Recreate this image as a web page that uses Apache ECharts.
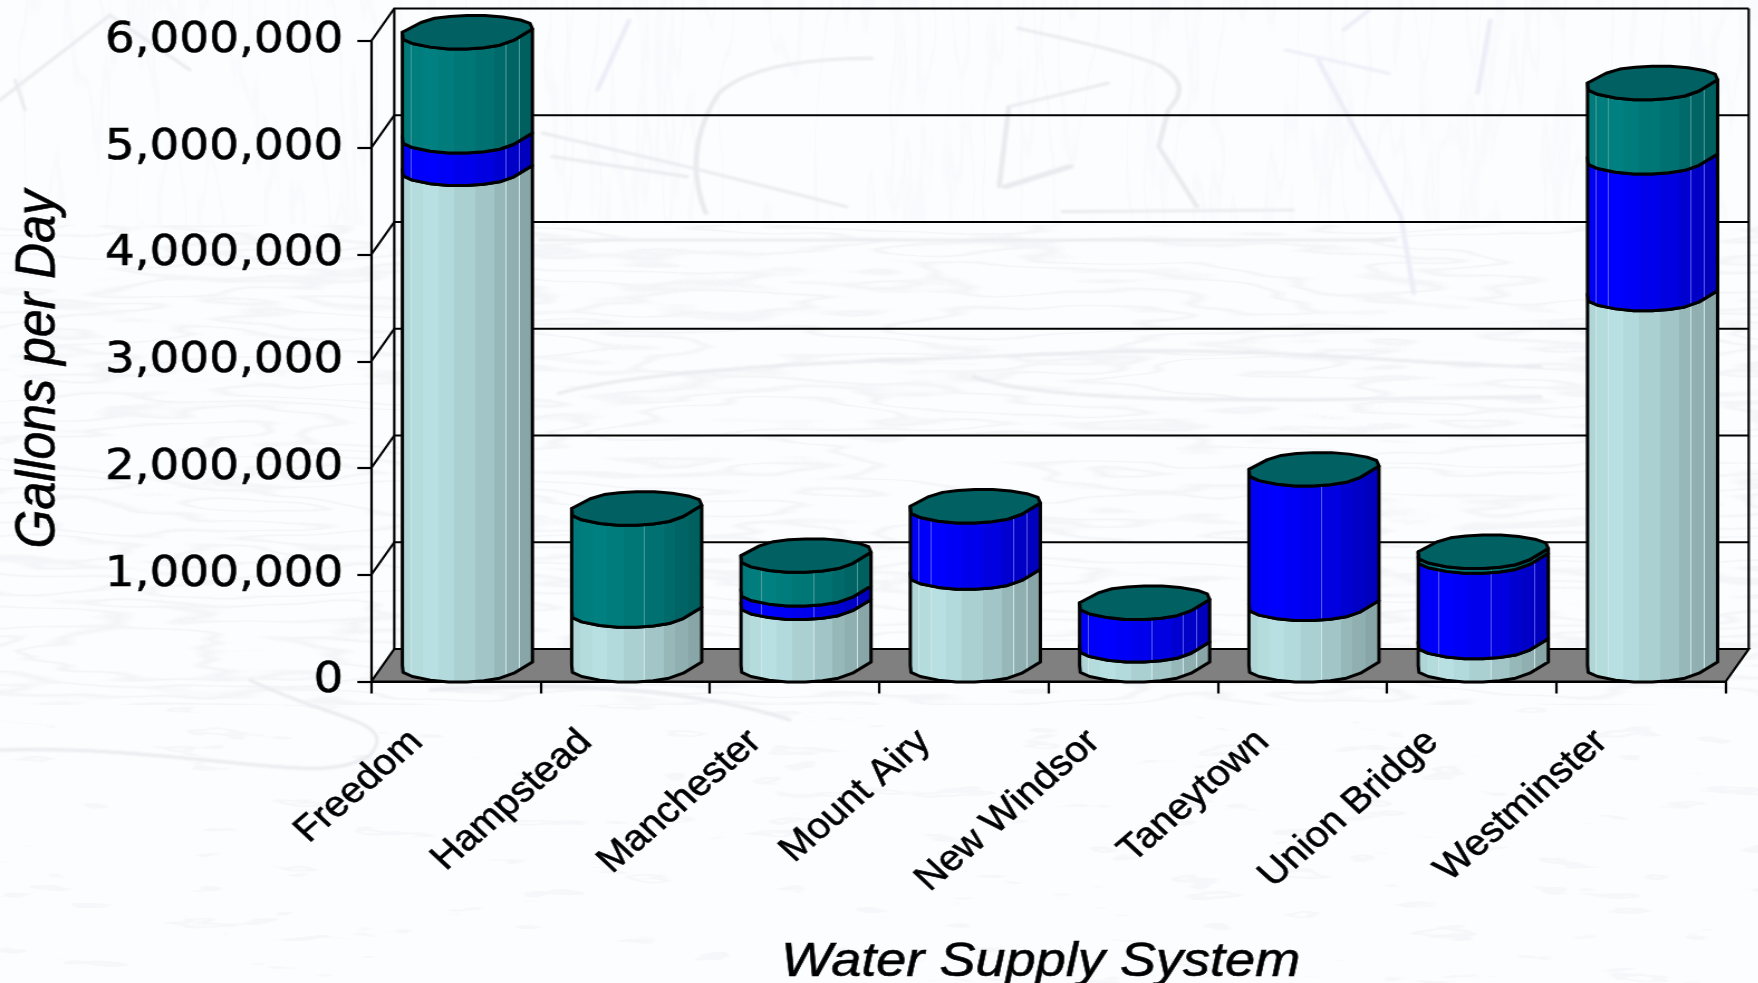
<!DOCTYPE html>
<html><head><meta charset="utf-8">
<style>
html,body{margin:0;padding:0;width:1758px;height:983px;overflow:hidden;background:#fcfdfe}
#bg{position:absolute;left:0;top:0}
#chart{position:absolute;left:0;top:0;height:983px;transform-origin:0 0}
</style>
<script src="https://cdn.jsdelivr.net/npm/echarts@6/dist/echarts.min.js"></script>
</head><body>
<svg id="bg" width="1758" height="983" xmlns="http://www.w3.org/2000/svg">
<defs>
<filter id="wood" x="0" y="0" width="100%" height="100%">
<feTurbulence type="fractalNoise" baseFrequency="0.0035 0.03" numOctaves="3" seed="7"/>
<feColorMatrix type="matrix" values="0 0 0 0 0.84  0 0 0 0 0.85  0 0 0 0 0.89  1 0 0 0 0"/>
<feComponentTransfer><feFuncA type="table" tableValues="0 0 0 0 0 0 0 0 0 0 .55 0 0 0 .55 0 0 0 0 0 0 0 0 0 0"/></feComponentTransfer>
</filter>
<filter id="grain" x="0" y="0" width="100%" height="100%">
<feTurbulence type="fractalNoise" baseFrequency="0.012 0.07" numOctaves="3" seed="3"/>
<feColorMatrix type="matrix" values="0 0 0 0 0.85  0 0 0 0 0.86  0 0 0 0 0.90  1 0 0 0 0"/>
<feComponentTransfer><feFuncA type="table" tableValues="0 0 0 0 0 0 0 0 0 0 0 0 0 0 .4 .4 0 0 0 0"/></feComponentTransfer>
</filter>
<filter id="reeds" x="0" y="0" width="100%" height="100%">
<feTurbulence type="fractalNoise" baseFrequency="0.03 0.004" numOctaves="3" seed="11"/>
<feColorMatrix type="matrix" values="0 0 0 0 0.88  0 0 0 0 0.89  0 0 0 0 0.96  1 0 0 0 0"/>
<feComponentTransfer><feFuncA type="table" tableValues="0 0 0 0 0 0 0 0 0 0 .3 0 0 0 0 0 0 0 0 0 0"/></feComponentTransfer>
</filter>
<filter id="soft" x="-5%" y="-5%" width="110%" height="110%"><feGaussianBlur stdDeviation="1.1"/></filter>
</defs>
<rect x="0" y="0" width="1758" height="225" filter="url(#reeds)"/>
<rect x="0" y="225" width="1758" height="480" filter="url(#wood)"/>
<rect x="0" y="705" width="1758" height="278" filter="url(#grain)"/>
<g filter="url(#soft)">
<g transform="translate(540 0) scale(0.6378 0.3333)" fill="none" stroke="#e9eaef" stroke-width="8" stroke-linecap="round" stroke-linejoin="round">
<path d="M260 640 C235 520 240 400 280 280 C320 210 400 175 520 175"/>
<path d="M750 85 C830 120 910 150 970 195 C1010 240 1010 280 985 330 L970 440 L1030 620"/>
<path d="M735 320 L890 250 M735 320 L720 560"/>
<path d="M5 400 L230 500 L480 620 M20 470 L230 530"/>
<path d="M730 560 L830 500" stroke-width="14"/>
<path d="M1170 150 L1330 220 M1220 180 L1350 650 L1370 880" stroke="#ecedf7"/>
<path d="M1300 30 L1260 90 M90 270 L140 60 M1490 60 L1470 280" stroke="#ecedf7"/>
<path d="M820 635 L1180 630 M0 720 L1340 720 M30 1180 C200 1090 600 1080 830 1060 C1100 1030 1400 1100 1568 1100 M680 1130 C800 1220 1200 1200 1568 1190"/>
</g>
<g fill="none" stroke="#e9eaef" stroke-width="3" stroke-linecap="round">
<path d="M0 100 L110 15 L190 70 M15 80 L25 110"/>
<path d="M250 680 C330 720 400 720 370 755 C320 790 200 745 0 750"/>
<path d="M430 690 C560 680 700 690 790 720"/>
</g>
</g>
</svg>
<div id="chart"></div>
<script>
const categories = ['Freedom','Hampstead','Manchester','Mount Airy','New Windsor','Taneytown','Union Bridge','Westminster'];
const lightValues = [4650000, 512000, 586000, 869000, 187000, 575000, 217000, 3478000];
const blueValues  = [305000, 0, 126000, 620000, 399000, 1260000, 802000, 1280000];
const tealValues  = [975000, 956000, 315000, 0, 0, 0, 44000, 696000];
const yTicks = [0,1000000,2000000,3000000,4000000,5000000,6000000];

const S = 1.115, W = 1758 / S;
const DX = 23 / S, DY = 32.5, RX = 65 / S, RY = DY / 2;
const el = document.getElementById('chart');
el.style.width = W + 'px';
el.style.transform = 'scaleX(' + S + ')';
const chart = echarts.init(el, null, {width: W, height: 983});

function soften(pts){
  const out = [pts[0]];
  for (let i = 1; i < pts.length - 1; i++) {
    const p = pts[i], a = pts[i-1], b = pts[i+1];
    out.push([p[0]+(a[0]-p[0])*.25, p[1]+(a[1]-p[1])*.25]);
    out.push([p[0]+(b[0]-p[0])*.25, p[1]+(b[1]-p[1])*.25]);
  }
  out.push(pts[pts.length-1]);
  return out;
}
const FRONT = soften([[1,-0.2],[0.62,0.72],[0.13,1.03],[-0.43,1.03],[-0.985,0.58],[-1,0]]);
const BACK  = soften([[-1,0],[-0.62,-0.8],[-0.15,-1.03],[0.41,-1.03],[0.95,-0.66],[1,-0.2]]);
const FACETS = [[0,.95],[.08,.98],[.17,1],[.28,.97],[.40,.93],[.56,.88],[.70,.82],[.79,.78],[.89,.74]];
const HILITE = [.08,.17,.56,.79,.89];

function shade(c, m){ return 'rgb(' + c.map(v => Math.min(255, Math.round(v*m))).join(',') + ')'; }
function facetFill(c, hi){
  const stops = [];
  FACETS.forEach((f,i) => {
    const end = i+1 < FACETS.length ? FACETS[i+1][0] : 1;
    stops.push({offset:f[0], color:shade(c,f[1])});
    if (HILITE.includes(end)) {
      stops.push({offset:end-0.005, color:shade(c,f[1])});
      stops.push({offset:end-0.005, color:hi});
      stops.push({offset:end, color:hi});
    } else {
      stops.push({offset:end, color:shade(c,f[1])});
    }
  });
  return new echarts.graphic.LinearGradient(0,0,1,0,stops);
}
function arc(cx, y, pts){ return pts.map(p => [cx + p[0]*RX, y - RY + p[1]*RY]); }

function bandSeries(name, values, base, color, hi){
  const data = values.map((v,i) => [i, base[i], base[i] + v]);
  return {
    name, type:'custom', z:3, clip:false, silent:true,
    encode:{x:0, y:[1,2]},
    data,
    renderItem(params, api){
      const lo = api.value(1), hiV = api.value(2);
      if (hiV - lo <= 0) return null;
      const c = api.coord([api.value(0), lo]);
      const t = api.coord([api.value(0), hiV]);
      const cx = c[0] + DX/2;
      const top = arc(cx, t[1], FRONT);
      const bot = arc(cx, c[1], FRONT).reverse();
      return {type:'polygon', shape:{points: top.concat(bot)},
        style:{fill: facetFill(color, hi), stroke:'#000', lineWidth:3, lineJoin:'round'}};
    }
  };
}

const base0 = lightValues.map(() => 0);
const base1 = lightValues.slice();
const base2 = lightValues.map((v,i) => v + blueValues[i]);
const totals = base2.map((v,i) => v + tealValues[i]);

const frame = {
  type:'custom', z:1, clip:false, silent:true,
  encode:{y:0},
  data: yTicks.map(v => [v]),
  renderItem(params, api){
    const sys = params.coordSys;
    const x0 = sys.x, x1 = sys.x + sys.width;
    const v = api.value(0);
    const y = api.coord([0, v])[1];
    const yTop = api.coord([0, yTicks[yTicks.length-1]])[1];
    const kids = [];
    const line = {stroke:'#000', lineWidth:2.2, fill:null};
    if (v === 0) {
      kids.push({type:'polygon', shape:{points:[[x0,y],[x0+DX,y-DY],[x1+DX,y-DY],[x1,y]]},
        style:{fill:'#808080', stroke:'#000', lineWidth:2.2}});
      kids.push({type:'line', shape:{x1:x0+DX,y1:y-DY,x2:x0+DX,y2:yTop-DY}, style:line});
      kids.push({type:'line', shape:{x1:x1+DX,y1:y-DY,x2:x1+DX,y2:yTop-DY}, style:line});
    } else {
      kids.push({type:'polyline', shape:{points:[[x0,y],[x0+DX,y-DY],[x1+DX,y-DY]]}, style:line});
    }
    return {type:'group', children:kids};
  }
};

const cap = {
  type:'custom', z:4, clip:false, silent:true,
  encode:{x:0, y:1},
  data: totals.map((v,i) => [i, v]),
  renderItem(params, api){
    const t = api.coord([api.value(0), api.value(1)]);
    const cx = t[0] + DX/2;
    return {type:'polygon', shape:{points: arc(cx,t[1],FRONT).concat(arc(cx,t[1],BACK))},
      style:{fill:'#006062', stroke:'#000', lineWidth:3, lineJoin:'round'}};
  }
};

const heavy = {textBorderColor:'#000', textBorderWidth:0.6};

chart.setOption({
  backgroundColor:'transparent',
  animation:false,
  grid:{left:371/S, right:33.4/S, top:41, bottom:301.5, containLabel:false, outerBoundsMode:'none'},
  xAxis:{
    type:'category', data:categories,
    axisLine:{show:true, lineStyle:{color:'#000', width:2.2}},
    axisTick:{show:true, alignWithLabel:false, length:12, lineStyle:{color:'#000', width:2.2}},
    axisLabel:{interval:0, rotate:44, color:'#000', fontFamily:'Liberation Sans', fontSize:36, margin:21, align:'right', verticalAlign:'middle', padding:[0,49,0,0], ...heavy},
    splitLine:{show:false},
    name:'Water Supply System', nameLocation:'middle', nameGap:257, nameMoveOverlap:false,
    nameTextStyle:{color:'#000', fontFamily:'Liberation Sans', fontStyle:'italic', fontSize:48.5, padding:[0,14,0,0], ...heavy}
  },
  yAxis:{
    type:'value', min:0, max:6000000, interval:1000000,
    axisLine:{show:true, lineStyle:{color:'#000', width:2.2}},
    axisTick:{show:true, length:12.5, lineStyle:{color:'#000', width:2.2}},
    axisLabel:{color:'#000', fontFamily:'DejaVu Sans', fontSize:42, margin:25, padding:[8,0,0,0], formatter:v => v.toLocaleString('en-US'), ...heavy},
    splitLine:{show:false},
    name:'Gallons per Day', nameLocation:'middle', nameGap:273, nameMoveOverlap:false,
    nameTextStyle:{color:'#000', fontFamily:'Liberation Sans', fontStyle:'italic', fontSize:50, padding:[0,16,0,0], ...heavy}
  },
  series:[
    frame,
    bandSeries('Light', lightValues, base0, [184,224,226], '#cfe6e8'),
    bandSeries('Blue', blueValues, base1, [0,0,255], '#5a5af0'),
    bandSeries('Teal', tealValues, base2, [0,128,128], '#4a9a9a'),
    cap
  ]
});
</script>
</body></html>
